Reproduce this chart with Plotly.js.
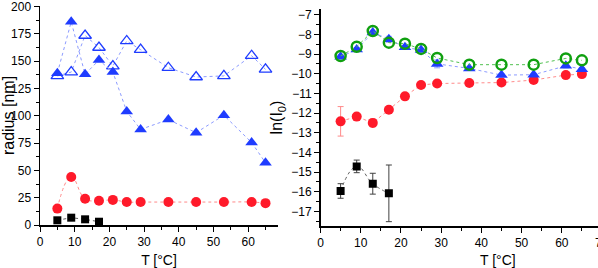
<!DOCTYPE html>
<html><head><meta charset="utf-8">
<script src="https://cdn.plot.ly/plotly-3.0.1.min.js"></script>
<style>html,body{margin:0;padding:0;background:#fff;} #chart{width:598px;height:268px;}</style>
</head><body><div id="chart"></div>
<script>
// Temperatures (°C)
const temperature = [5, 9, 13, 17, 21, 25, 29, 37, 45, 53, 61, 65];
const temperatureSmall = [5, 9, 13, 17];

// Left panel: radius [nm]
const radiusTicks = [0, 25, 50, 75, 100, 125, 150, 175, 200];
const radiusFilledTri = [139, 186, 138, 151, 140, 104, 87.5, 96.5, 84.5, 100.5, 75.5, 57];
const radiusOpenTri = [136.5, 140, 173.5, 162.5, 145.5, 168.5, 160.5, 144, 135.5, 136.5, 155, 142.5];
const radiusCircle = [15, 44, 24, 22.2, 23, 21, 21, 21, 21, 21, 21, 20];
const radiusSquare = [4.3, 6.7, 5.2, 3];

// Right panel: ln(I0)
const lnGreen = [-9.10, -8.63, -7.83, -8.42, -8.47, -8.74, -9.20, -9.54, -9.54, -9.54, -9.22, -9.32];
const lnBlue = [-9.14, -8.77, -7.90, -8.25, -8.66, -8.80, -9.50, -9.73, -10.07, -10.05, -9.60, -9.77];
const lnBlueErr = [0.10, 0.10, 0.05, 0.15, 0.10, 0.05, 0.20, 0.08, 0.05, 0.05, 0.10, 0.08];
const lnRed = [-12.42, -12.18, -12.50, -11.83, -11.15, -10.57, -10.50, -10.47, -10.45, -10.32, -10.07, -10.02];
const lnRedErr = [0.75, 0.10, 0.20, 0.05, 0.05, 0.15, 0.05, 0.05, 0.05, 0.05, 0.05, 0.05];
const lnSquare = [-15.96, -14.71, -15.59, -16.08];
const lnSquareErr = [0.37, 0.32, 0.53, 1.44];

const FONT = 'Liberation Sans, Arial, sans-serif';
const BLUE = '#1f3cff', BLUE_LINE = '#8c9bff';
const RED = '#ff1a2a', RED_LINE = '#ff8a8a';
const GREEN = '#10a010', GREEN_LINE = '#50c050';
const BLACK = '#000000', BLACK_LINE = '#606060';

const traces = [
  {x: temperature, y: radiusOpenTri, xaxis: 'x', yaxis: 'y', mode: 'lines+markers',
   line: {color: BLUE_LINE, width: 1, dash: 'dot'},
   marker: {symbol: 'triangle-up-open', size: 11, color: BLUE, line: {width: 1.3, color: BLUE}}},
  {x: temperature, y: radiusFilledTri, xaxis: 'x', yaxis: 'y', mode: 'lines+markers',
   line: {color: BLUE_LINE, width: 1, dash: 'dot'},
   marker: {symbol: 'triangle-up', size: 11, color: BLUE}},
  {x: temperature, y: radiusCircle, xaxis: 'x', yaxis: 'y', mode: 'lines+markers',
   line: {color: RED_LINE, width: 1, dash: 'dot', shape: 'spline', smoothing: 1.3},
   marker: {symbol: 'circle', size: 10, color: RED}},
  {x: temperatureSmall, y: radiusSquare, xaxis: 'x', yaxis: 'y', mode: 'lines+markers',
   line: {color: BLACK_LINE, width: 1, dash: 'dot'},
   marker: {symbol: 'square', size: 8, color: BLACK}},

  {x: temperature, y: lnRed, xaxis: 'x2', yaxis: 'y2', mode: 'lines+markers',
   error_y: {type: 'data', array: lnRedErr, visible: true, color: RED_LINE, thickness: 1, width: 3},
   line: {color: RED_LINE, width: 1, dash: 'dot'},
   marker: {symbol: 'circle', size: 10, color: RED}},
  {x: temperature, y: lnBlue, xaxis: 'x2', yaxis: 'y2', mode: 'lines+markers',
   error_y: {type: 'data', array: lnBlueErr, visible: true, color: BLUE_LINE, thickness: 1, width: 3},
   line: {color: BLUE_LINE, width: 1, dash: 'dot'},
   marker: {symbol: 'triangle-up', size: 11, color: BLUE}},
  {x: temperature, y: lnGreen, xaxis: 'x2', yaxis: 'y2', mode: 'lines+markers',
   line: {color: GREEN_LINE, width: 1, dash: 'dot'},
   marker: {symbol: 'circle-open', size: 10, color: GREEN, line: {width: 2.5, color: GREEN}}},
  {x: temperatureSmall, y: lnSquare, xaxis: 'x2', yaxis: 'y2', mode: 'lines+markers',
   error_y: {type: 'data', array: lnSquareErr, visible: true, color: '#404040', thickness: 1, width: 3},
   line: {color: BLACK_LINE, width: 1, dash: 'dot', shape: 'spline', smoothing: 1.3},
   marker: {symbol: 'square', size: 8, color: BLACK}}
];

function axisBase() {
  return {
    showline: true, linecolor: '#000', linewidth: 1.5, mirror: false,
    ticks: 'outside', ticklen: 5, tickwidth: 1, tickcolor: '#000',
    showgrid: false, zeroline: false, ticklabeloverflow: 'allow',
    tickfont: {family: FONT, size: 12, color: '#000'}
  };
}

const layout = {
  width: 598, height: 268,
  margin: {l: 0, r: 0, t: 0, b: 0},
  paper_bgcolor: '#fff', plot_bgcolor: '#fff',
  showlegend: false,
  font: {family: FONT, color: '#000'},
  xaxis: Object.assign(axisBase(), {
    domain: [40/598, 278/598], range: [0, 68.6], anchor: 'y',
    tick0: 0, dtick: 10, minor: {dtick: 5, ticklen: 3, ticks: 'outside', tickcolor: '#000'},
    title: {text: 'T [°C]', font: {family: FONT, size: 14}, standoff: 10}
  }),
  yaxis: Object.assign(axisBase(), {
    domain: [43/268, 262/268], range: [0, 200.5], anchor: 'x',
    tickmode: 'array', tickvals: radiusTicks, ticktext: radiusTicks.map(String),
    minor: {dtick: 12.5, ticklen: 3, ticks: 'outside', tickcolor: '#000'},
    title: {text: 'radius [nm]', font: {family: FONT, size: 16}, standoff: 2}
  }),
  xaxis2: Object.assign(axisBase(), {
    domain: [320.5/598, 1], range: [0, 69], anchor: 'y2',
    tick0: 0, dtick: 10, minor: {dtick: 5, ticklen: 3, ticks: 'outside', tickcolor: '#000'}
  }),
  yaxis2: Object.assign(axisBase(), {
    domain: [42/268, 259/268], range: [-17.74, -6.71], anchor: 'x2',
    tick0: -17, dtick: 1, minor: {dtick: 0.5, ticklen: 3, ticks: 'outside', tickcolor: '#000'},
    title: {text: 'ln(I<sub>0</sub>)', font: {family: FONT, size: 16}, standoff: 4}
  }),
  annotations: [
    {text: 'T [°C]', xref: 'paper', yref: 'paper', x: 498/598, y: 8/268,
     xanchor: 'center', yanchor: 'middle', showarrow: false, font: {family: FONT, size: 14}},
    {text: '70', xref: 'paper', yref: 'paper', x: 602/598, y: 34/268,
     xanchor: 'center', yanchor: 'top', showarrow: false, font: {family: FONT, size: 12}}
  ]
};

// Make sure every left-axis tick label sits at its own tick and is shown.
function checkLabels(gd) {
  const ax = gd._fullLayout.yaxis;
  const texts = Array.from(gd.querySelectorAll('.ytick text'));
  if (!texts.length) return;
  const proto = texts[0];
  radiusTicks.forEach(function(v) {
    const yPix = ax._offset + ax.l2p(v);
    let t = texts.find(function(el) { return el.textContent.trim() === String(v); });
    if (!t) {
      t = proto.cloneNode(true);
      t.textContent = String(v);
      proto.parentNode.parentNode.appendChild(t);
    }
    t.style.display = 'block';
    t.style.visibility = 'visible';
    t.setAttribute('opacity', 1);
    t.style.opacity = 1;
    t.setAttribute('transform', 'translate(0,' + yPix + ')');
  });
}

Plotly.newPlot('chart', traces, layout, {staticPlot: true, displayModeBar: false}).then(checkLabels);
</script>
</body></html>
